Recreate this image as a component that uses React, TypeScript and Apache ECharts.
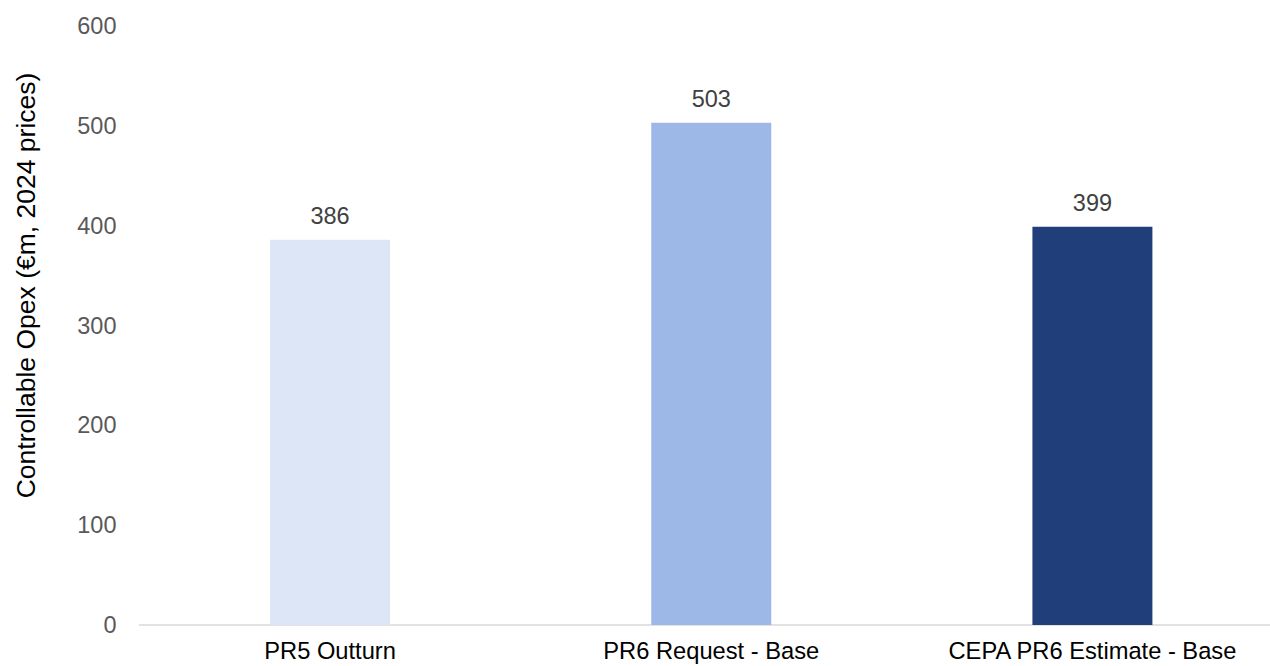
import React, { useEffect, useRef } from "react";
import * as echarts from "echarts";

const categories = ["PR5 Outturn", "PR6 Request - Base", "CEPA PR6 Estimate - Base"];
const values = [386, 503, 399];
const barColors = ["#DDE6F6", "#9DB8E6", "#203F7A"];
const yTicks = [0, 100, 200, 300, 400, 500, 600];
const yTitle = "Controllable Opex (€m, 2024 prices)";

export default function App() {
  const ref = useRef<HTMLDivElement>(null);
  useEffect(() => {
    if (!ref.current) return;
    const chart = echarts.init(ref.current, null, { renderer: "svg" });
    const font = "'Liberation Sans', Arial, sans-serif";
    chart.setOption({
      animation: false,
      grid: { left: 139.5, right: 0, top: 26, bottom: 41, containLabel: false },
      xAxis: {
        type: "category",
        data: categories,
        axisLine: { show: true, lineStyle: { color: "#D9D9D9", width: 1.5 } },
        axisTick: { show: false },
        axisLabel: { color: "#000000", fontSize: 23.7, fontFamily: font, margin: 14, interval: 0 },
      },
      yAxis: {
        type: "value",
        min: yTicks[0],
        max: yTicks[yTicks.length - 1],
        interval: 100,
        splitLine: { show: false },
        axisLine: { show: false },
        axisTick: { show: false },
        axisLabel: { color: "#595959", fontSize: 23.5, fontFamily: font, margin: 23 },
        name: yTitle,
        nameLocation: "middle",
        nameRotate: 90,
        nameGap: 100,
        nameTextStyle: { color: "#000000", fontSize: 26.5, fontFamily: font, padding: [0, 0, 0, 80] },
      },
      series: [
        {
          type: "bar",
          data: values.map((v, i) => ({ value: v, itemStyle: { color: barColors[i] } })),
          barWidth: 120,
          label: {
            show: true,
            position: "top",
            distance: 12,
            color: "#404040",
            fontSize: 23.5,
            fontFamily: font,
          },
        },
      ],
    });
    return () => chart.dispose();
  }, []);
  return (
    <div style={{ position: "absolute", left: 0, top: 0, width: 1270, height: 666, overflow: "hidden", background: "#fff" }}>
      <div ref={ref} style={{ width: 1283, height: 666 }} />
    </div>
  );
}
